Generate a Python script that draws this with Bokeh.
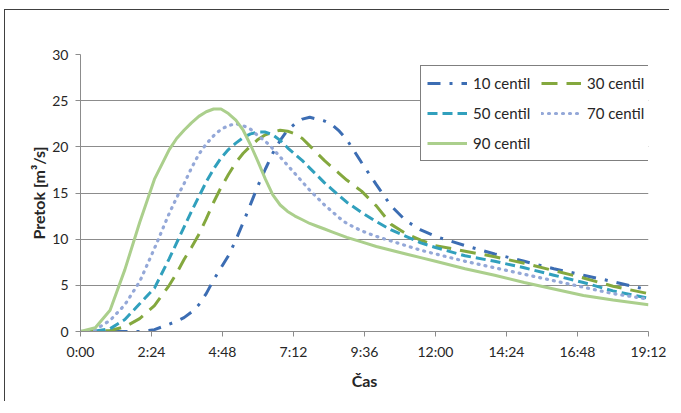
from bokeh.plotting import figure
from bokeh.models import Legend, LegendItem, FixedTicker, Range1d
from bokeh.embed import file_html
from bokeh.resources import INLINE

# time in minutes
time_min = [0, 30, 60, 90, 120, 150,
            180, 195, 210, 225, 240, 255, 270, 285, 300, 315, 330, 345, 360, 375, 390, 405,
            420, 435, 450, 465, 480, 495, 510, 525, 540,
            570, 600, 630, 660, 690, 720, 780, 840, 900, 960, 1020, 1080, 1152]

c10 = [0, 0, 0, 0, 0, 0.2,
       0.8, 1.1, 1.5, 2.1, 2.9, 4.1, 5.6, 6.9, 8.2, 9.9, 11.8, 13.8, 15.8, 17.6, 19.3, 20.7,
       21.8, 22.5, 23.0, 23.2, 23.0, 22.8, 22.4, 21.7, 20.8,
       18.3, 15.9, 13.6, 12.0, 11.0, 10.3, 9.3, 8.4, 7.6, 6.8, 6.1, 5.4, 4.5]
c30 = [0, 0, 0.1, 0.5, 1.4, 2.8,
       5.0, 6.3, 7.8, 9.1, 10.5, 12.2, 14.0, 15.6, 17.0, 18.3, 19.3, 20.1, 20.8, 21.3, 21.6, 21.8,
       21.7, 21.4, 20.9, 20.1, 19.3, 18.5, 17.8, 17.1, 16.4,
       15.2, 13.6, 11.6, 10.6, 9.9, 9.3, 8.7, 8.1, 7.4, 6.6, 5.8, 4.9, 4.1]
c50 = [0, 0.05, 0.3, 1.3, 3.0, 4.7,
       7.9, 9.6, 11.3, 13.0, 14.6, 16.2, 17.6, 18.8, 19.7, 20.4, 21.0, 21.4, 21.6, 21.6, 21.3, 20.7,
       19.9, 19.2, 18.5, 17.7, 16.9, 16.1, 15.4, 14.7, 14.0,
       12.9, 11.9, 11.0, 10.3, 9.6, 9.1, 8.2, 7.6, 6.9, 6.1, 5.3, 4.4, 3.6]
c70 = [0, 0.2, 1.2, 2.9, 5.4, 9.0,
       12.8, 14.5, 16.0, 17.7, 19.2, 20.3, 21.2, 21.9, 22.3, 22.5, 22.3, 21.9, 21.2, 20.6, 19.8, 18.9,
       18.0, 17.1, 16.2, 15.3, 14.5, 13.7, 13.0, 12.3, 11.7,
       10.9, 10.3, 9.8, 9.3, 8.8, 8.4, 7.6, 6.9, 6.2, 5.5, 4.8, 4.1, 3.5]
c90 = [0, 0.4, 2.3, 6.7, 11.8, 16.5,
       19.7, 20.9, 21.8, 22.6, 23.3, 23.8, 24.1, 24.1, 23.6, 22.9, 21.8, 20.2, 18.4, 16.5, 14.8, 13.7,
       13.0, 12.5, 12.1, 11.7, 11.4, 11.1, 10.8, 10.5, 10.2,
       9.7, 9.2, 8.8, 8.4, 8.0, 7.6, 6.8, 6.1, 5.3, 4.6, 3.9, 3.4, 2.9]

series_names = ["10 centil", "30 centil", "50 centil", "70 centil", "90 centil"]
x_ticks = [0, 144, 288, 432, 576, 720, 864, 1008, 1152]
x_tick_labels = ["0:00", "2:24", "4:48", "7:12", "9:36", "12:00", "14:24", "16:48", "19:12"]
y_ticks = [0, 5, 10, 15, 20, 25, 30]

FONT = "Lato"
GRID = "#8c8c8c"
TXT = "#262626"

p = figure(width=665, height=392, output_backend="svg", toolbar_location=None,
           x_range=Range1d(0, 1152), y_range=Range1d(0, 30),
           min_border_left=75, min_border_right=22, min_border_top=44, min_border_bottom=71)
# outer chart frame: only its top and left edges fall inside the picture
p.styles = {"margin-left": "5px", "margin-top": "10px",
            "box-shadow": "-1px -1px 0px 0px #404040"}
p.outline_line_color = None
p.background_fill_color = "white"
p.border_fill_color = "white"

p.xgrid.visible = False
p.ygrid.grid_line_color = GRID
p.ygrid.grid_line_width = 1
p.ygrid.ticker = FixedTicker(ticks=y_ticks)

p.xaxis.ticker = FixedTicker(ticks=x_ticks)
p.xaxis.major_label_overrides = {t: l for t, l in zip(x_ticks, x_tick_labels)}
p.yaxis.ticker = FixedTicker(ticks=y_ticks)
for ax in (p.xaxis, p.yaxis):
    ax.axis_line_color = GRID
    ax.major_tick_line_color = GRID
    ax.major_tick_out = 5
    ax.major_tick_in = 0
    ax.minor_tick_line_color = None
    ax.major_label_text_font = FONT
    ax.major_label_text_font_size = "14px"
    ax.major_label_text_color = TXT
    ax.axis_label_text_font = FONT
    ax.axis_label_text_font_size = "16px"
    ax.axis_label_text_font_style = "bold"
    ax.axis_label_text_color = TXT
p.xaxis.axis_label = "Čas"
p.yaxis.axis_label = "Pretok [m³/s]"
p.xaxis.major_label_standoff = 6
p.yaxis.major_label_standoff = 7
p.xaxis.axis_label_standoff = 8
p.yaxis.axis_label_standoff = 1

r10 = p.line(time_min, c10, line_color="#3c6db3", line_width=3, line_dash="13 9 3 9")
r30 = p.line(time_min, c30, line_color="#84a83e", line_width=3, line_dash="16 9")
r50 = p.line(time_min, c50, line_color="#31a0bd", line_width=3, line_dash="10 5")
r70 = p.line(time_min, c70, line_color="#94a8d8", line_width=3.2, line_dash="1 6", line_cap="round")
r90 = p.line(time_min, c90, line_color="#abcf8c", line_width=3)

renderers = [r10, r30, r50, r70, r90]
by_name = {n: LegendItem(label=n, renderers=[r]) for n, r in zip(series_names, renderers)}
# legend fills column-wise: first column 10/50/90, second column 30/70
order = ["10 centil", "50 centil", "90 centil", "30 centil", "70 centil"]
legend = Legend(items=[by_name[n] for n in order], ncols=2, location=(340, 170),
                label_text_font=FONT, label_text_font_size="15px", label_text_color=TXT,
                glyph_width=40, glyph_height=22, label_height=22, label_width=60,
                label_standoff=6, spacing=8, padding=6, margin=0,
                border_line_color="black", border_line_width=1,
                background_fill_color="white", background_fill_alpha=1)
p.add_layout(legend)

open("out.html", "w").write(file_html(p, INLINE))
